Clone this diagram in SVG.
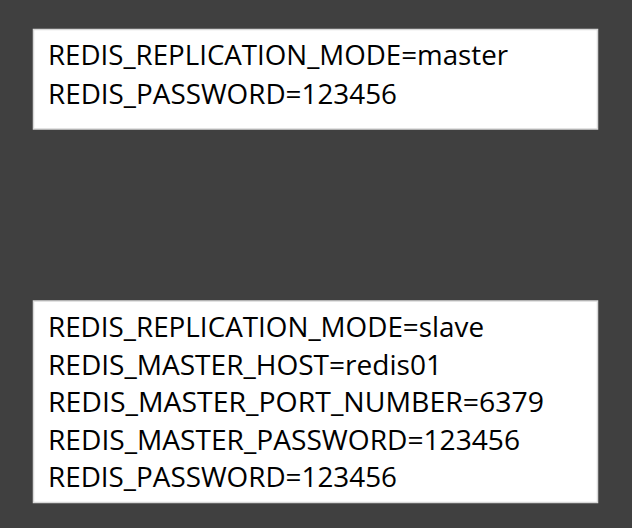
<svg xmlns="http://www.w3.org/2000/svg" width="632" height="528" viewBox="0 0 632 528">
<style>
.box{fill:#ffffff;stroke:#d9d9d9;stroke-width:1.5}
.t{font-family:"Open Sans","Noto Sans","Liberation Sans",sans-serif;font-size:26.5px;fill:#000000}
</style>
<rect x="0" y="0" width="632" height="528" fill="#404040"/>
<g id="master">
<rect class="box" x="33.5" y="29.5" width="564" height="99.5"/>
<text class="t" x="48" y="65" textLength="460" lengthAdjust="spacingAndGlyphs">REDIS_REPLICATION_MODE=master</text>
<text class="t" x="48" y="103.5" textLength="349" lengthAdjust="spacingAndGlyphs">REDIS_PASSWORD=123456</text>
</g>
<g id="slave">
<rect class="box" x="33.5" y="301" width="564" height="201.5"/>
<text class="t" x="48" y="337" textLength="436" lengthAdjust="spacingAndGlyphs">REDIS_REPLICATION_MODE=slave</text>
<text class="t" x="48" y="374.5" textLength="394" lengthAdjust="spacingAndGlyphs">REDIS_MASTER_HOST=redis01</text>
<text class="t" x="48" y="412" textLength="496" lengthAdjust="spacingAndGlyphs">REDIS_MASTER_PORT_NUMBER=6379</text>
<text class="t" x="48" y="449.5" textLength="472" lengthAdjust="spacingAndGlyphs">REDIS_MASTER_PASSWORD=123456</text>
<text class="t" x="48" y="487" textLength="349" lengthAdjust="spacingAndGlyphs">REDIS_PASSWORD=123456</text>
</g>
<g id="connectors"></g>
</svg>
